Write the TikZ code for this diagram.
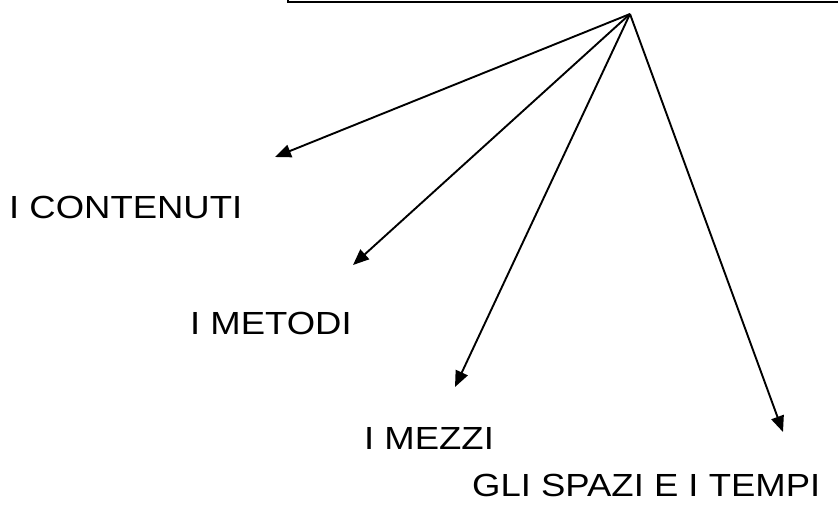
\documentclass[tikz,border=0pt]{standalone}
\usepackage{fontspec}
\setmainfont{Liberation Sans}
\usetikzlibrary{arrows.meta}
\begin{document}
\begin{tikzpicture}[x=1pt,y=-1pt,
  lbl/.style={anchor=base west,inner sep=0pt,font=\fontsize{32}{36}\selectfont,xscale=1.14,transform shape},
  arr/.style={line width=1.9pt,-{Triangle[length=16pt,width=13pt]}},
  boxline/.style={line width=1.1pt}]
\useasboundingbox (0,0) rectangle (838,512);
\draw[boxline] (288,-5) -- (288,2) -- (845,2);
\coordinate (apex) at (630,14);
\coordinate (t1) at (275,157);
\coordinate (t2) at (353,265);
\coordinate (t3) at (455,387);
\coordinate (t4) at (783,432);
\draw[arr] (apex) -- (t1);
\draw[arr] (apex) -- (t2);
\draw[arr] (apex) -- (t3);
\draw[arr] (apex) -- (t4);
\node[lbl] (c) at (9,218) {I CONTENUTI};
\node[lbl] (m) at (190,334) {I METODI};
\node[lbl] (z) at (364,449) {I MEZZI};
\node[lbl] (s) at (472,496) {GLI SPAZI E I TEMPI};
\end{tikzpicture}
\end{document}
